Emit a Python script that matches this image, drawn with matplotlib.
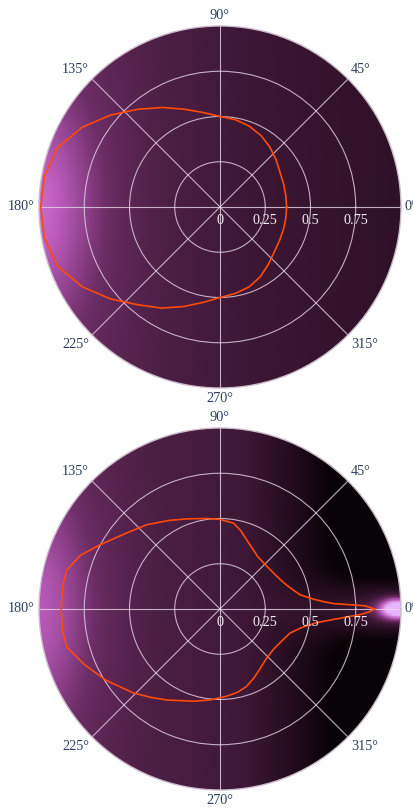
#!/usr/bin/env python3

import numpy as np
import matplotlib
matplotlib.use("Agg")
import matplotlib.pyplot as plt
from matplotlib.colors import LinearSegmentedColormap
from matplotlib.transforms import offset_copy

# upper pattern: radius sampled every 10 degrees
upper_theta = list(range(0, 360, 10))
upper_r = [0.368, 0.369, 0.374, 0.383, 0.405, 0.43, 0.455, 0.475, 0.49,
           0.50, 0.53, 0.575, 0.635, 0.705, 0.79, 0.88, 0.955, 0.985,
           0.99, 0.985, 0.955, 0.88, 0.79, 0.705, 0.645, 0.585, 0.535,
           0.50, 0.485, 0.47, 0.445, 0.415, 0.39, 0.378, 0.372, 0.369]

# lower pattern: denser near the narrow lobe at 0 degrees
lower_theta = [0, 1.3, 2.7, 4, 6, 10, 15, 20, 25, 30, 37, 45, 55, 62, 69, 75, 81,
               90, 98, 110, 120, 131, 140, 146, 152, 159, 166, 172, 180, 188,
               194, 202, 212, 224, 232, 240, 247, 254, 264, 274, 282, 289, 296,
               303, 313, 323, 333, 341, 347, 352, 355, 357.7, 359]
lower_r = [0.855, 0.80, 0.63, 0.575, 0.52, 0.45, 0.415, 0.39, 0.373, 0.362, 0.353,
           0.35, 0.358, 0.38, 0.41, 0.447, 0.48, 0.495, 0.505, 0.53, 0.565, 0.617,
           0.66, 0.70, 0.753, 0.827, 0.875, 0.878, 0.878, 0.878, 0.872, 0.812,
           0.743, 0.667, 0.62, 0.581, 0.55, 0.53, 0.505, 0.484, 0.47, 0.452,
           0.425, 0.40, 0.375, 0.37, 0.385, 0.409, 0.46, 0.54, 0.64, 0.774, 0.83]

r_ticks = [0, 0.25, 0.5, 0.75]
r_tick_labels = ["0", "0.25", "0.5", "0.75"]
angle_ticks = [0, 45, 90, 135, 180, 225, 270, 315]
angle_labels = ["0°", "45°", "90°", "135°", "180°", "225°", "270°", "315°"]

W, H = 414, 811
RADIUS = 181
CENTERS = [(220, 207), (220, 609)]

glow = LinearSegmentedColormap.from_list(
    "glow", ["#080306", "#250d1f", "#3d1735", "#6e2e68", "#c05ec0", "#e8b4ff"])

FONT = "Liberation Serif"
FS = 10.3


def shade_upper(x, y):
    v = 0.42 - 0.15 * x
    v += 0.26 * np.exp(-((x + 1) ** 2 / 0.12 + y ** 2 / 0.45))
    return v


def shade_lower(x, y):
    v = 0.42 - 0.12 * x
    v += 0.24 * np.exp(-((x + 1) ** 2 / 0.10 + y ** 2 / 0.5))
    fade = np.clip((x - 0.15) / 0.6, 0, 1)
    v -= 0.32 * fade * (1 - np.exp(-y ** 2 / 0.025))
    v -= 0.12 * fade
    # bright spot on the rim at 0 degrees
    v += 0.26 * np.exp(-((x - 0.92) ** 2 / 0.05 + y ** 2 / 0.018))
    v += 0.85 * np.exp(-((x - 0.99) ** 2 / 0.012 + y ** 2 / 0.004))
    return v


def draw_panel(fig, center, theta_deg, radius, shade):
    cx, cy = center
    rect = [(cx - RADIUS) / W, (H - cy - RADIUS) / H, 2 * RADIUS / W, 2 * RADIUS / H]
    ax = fig.add_axes(rect, projection="polar")
    ax.set_ylim(0, 1)

    # background shading
    tt, rr = np.meshgrid(np.linspace(0, 2 * np.pi, 361), np.linspace(0, 1, 120))
    vals = np.clip(shade(rr * np.cos(tt), rr * np.sin(tt)), 0, 1)
    ax.pcolormesh(tt, rr, vals, cmap=glow, vmin=0, vmax=1,
                  shading="gouraud", rasterized=True, zorder=0)

    th = np.radians(list(theta_deg) + [theta_deg[0]])
    rv = list(radius) + [radius[0]]
    ax.plot(th, rv, color="#ff4a0a", lw=1.2, zorder=3)

    ax.set_thetagrids(angle_ticks, labels=[""] * len(angle_ticks))
    ax.set_rgrids(r_ticks[1:], labels=[""] * 3)
    ax.grid(True, color="#e6d6e6", lw=0.8, alpha=0.8)
    ax.spines["polar"].set_color("#cbbccb")
    ax.spines["polar"].set_linewidth(1.0)

    for r, lab in zip(r_ticks, r_tick_labels):
        tr = offset_copy(ax.transData, fig=fig, y=-13, units="dots")
        ax.text(0, r, lab, transform=tr, ha="center", va="center",
                color="#f2ecf2", fontsize=FS, family=FONT, zorder=4)

    for a, lab in zip(angle_ticks, angle_labels):
        c, s = np.cos(np.radians(a)), np.sin(np.radians(a))
        ha = "left" if c > 0.1 else ("right" if c < -0.1 else "center")
        va = "bottom" if s > 0.1 else ("top" if s < -0.1 else "center")
        tr = offset_copy(ax.transData, fig=fig, x=4 * c, y=4 * s, units="dots")
        ax.text(np.radians(a), 1.0, lab, transform=tr, ha=ha, va=va,
                color="#2a3f5f", fontsize=FS, family=FONT, clip_on=False)
    return ax


def main():
    fig = plt.figure(figsize=(W / 100, H / 100), dpi=100)
    fig.patch.set_facecolor("white")
    draw_panel(fig, CENTERS[0], upper_theta, upper_r, shade_upper)
    draw_panel(fig, CENTERS[1], lower_theta, lower_r, shade_lower)
    fig.savefig("out.png", dpi=100)


if __name__ == "__main__":
    main()
